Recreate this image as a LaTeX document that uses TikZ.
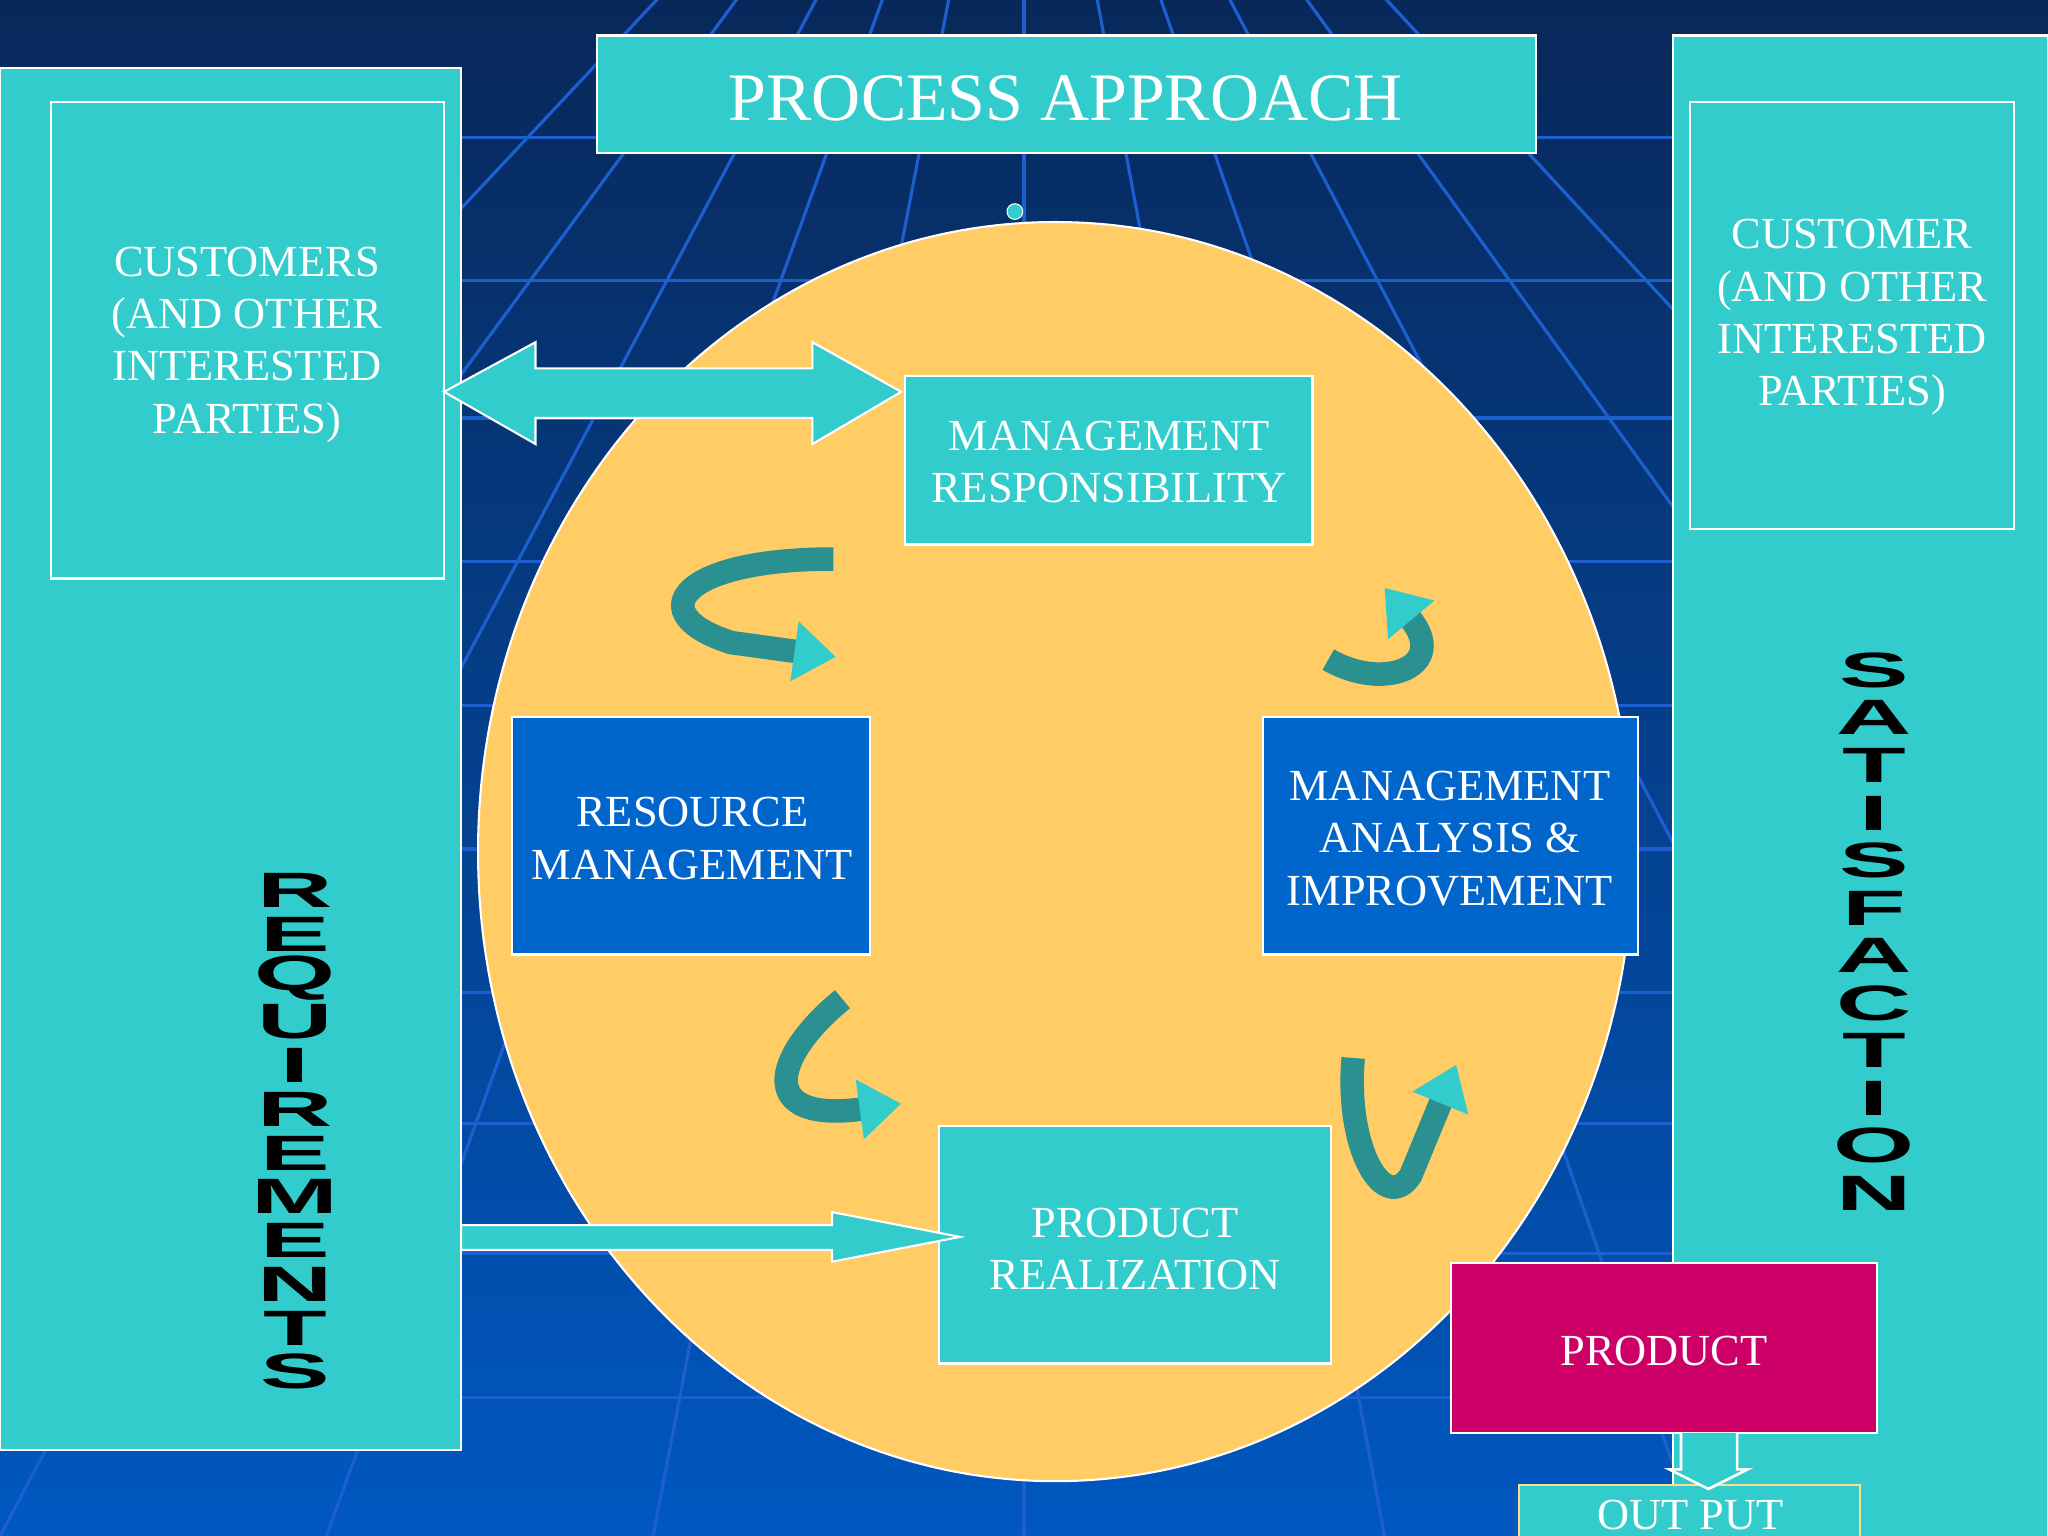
\documentclass[tikz,border=0pt]{standalone}
\usepackage{fontspec}
\setmainfont{Liberation Serif}
\newfontfamily\heavy{Liberation Sans}
\usetikzlibrary{arrows.meta,shapes.arrows}
\definecolor{teal1}{HTML}{33CCCC}
\definecolor{teal2}{HTML}{2A9090}
\definecolor{orb}{HTML}{FFCC66}
\definecolor{bluebox}{HTML}{0066CC}
\definecolor{prod}{HTML}{CC0066}
\definecolor{navy}{HTML}{08285A}
\definecolor{bbot}{HTML}{0058C0}
\definecolor{gridc}{HTML}{1E5FD0}
\tikzset{
  tbox/.style={fill=teal1,draw=white,line width=1pt},
  bbox/.style={fill=bluebox,draw=white,line width=1pt},
  txt/.style={text=white,font=\fontsize{17}{20}\selectfont,align=center},
  vert/.style={text=black,font=\heavy\bfseries\fontsize{19}{19}\selectfont,inner sep=0pt,xscale=2.1},
  curv/.style={line width=9pt,draw=teal2,-{Triangle[length=16pt,width=22pt,color=teal1]}},
}
\begin{document}
\begin{tikzpicture}[x=0.5pt,y=-0.5pt]
\useasboundingbox (0,0) rectangle (1568,1176);
\shade[top color=navy,bottom color=bbot] (0,0) rectangle (1568,1176);
\foreach \yy in {105,215,320,430,540,650,760,860,960,1070}
  \draw[gridc,line width=1.2pt] (0,\yy) -- (1568,\yy);
\foreach \xx in {-600,-300,0,250,500,784,1060,1300,1560,1850,2150}
  \draw[gridc,line width=1.2pt] (784,-300) -- (\xx,1176);
% left box
\path[tbox] (0,52) rectangle (353,1110);
\draw[white,line width=1pt] (39,78) rectangle (340,443);
\node[txt] (cust) at (189,264) {CUSTOMERS\\(AND OTHER\\INTERESTED\\PARTIES)};
% right box
\path[tbox] (1281,27) rectangle (1568,1180);
\draw[white,line width=1pt] (1294,78) rectangle (1542,405);
\node[txt] (cust2) at (1418,243) {CUSTOMER\\(AND OTHER\\INTERESTED\\PARTIES)};
% title
\path[tbox] (457,27) rectangle (1176,117);
\node[text=white,font=\fontsize{26}{30}\selectfont] (title) at (816,75) {PROCESS APPROACH};
% orb
\fill[orb,draw=white,line width=0.8pt] (808,652) ellipse (442 and 482);
\fill[teal1,draw=white] (777,162) circle (6);
% boxes
\path[tbox] (693,288) rectangle (1005,417);
\node[txt] (mr) at (849,354) {MANAGEMENT\\RESPONSIBILITY};
\path[bbox] (392,549) rectangle (666,731);
\node[txt] (rm) at (530,642) {RESOURCE\\MANAGEMENT};
\path[bbox] (967,549) rectangle (1254,731);
\node[txt] (ma) at (1110,642) {MANAGEMENT\\ANALYSIS \&\\IMPROVEMENT};
\path[tbox] (719,862) rectangle (1019,1044);
\node[txt] (pr) at (869,956) {PRODUCT\\REALIZATION};
\path[fill=prod,draw=white,line width=1pt] (1111,967) rectangle (1437,1097);
\node[txt] (pd) at (1274,1034) {PRODUCT};
\path[fill=teal1,draw=orb!70!white,line width=1pt] (1163,1137) rectangle (1424,1190);
\node[txt] (op) at (1294,1160) {OUT PUT};
% double arrow
\fill[teal1,draw=white,line width=0.8pt] (340,300) -- (410,262) -- (410,282) -- (622,282) -- (622,262) -- (690,300)
  -- (622,340) -- (622,320) -- (410,320) -- (410,340) -- cycle;
% requirements arrow
\fill[teal1,draw=white,line width=0.8pt] (353,938) -- (637,938) -- (637,928) -- (735,947) -- (637,966) -- (637,957) -- (353,957) -- cycle;
% down arrow
\draw[white,line width=1pt,fill=teal1] (1287,1097) -- (1287,1125) -- (1278,1125) -- (1308,1140) -- (1338,1125) -- (1330,1125) -- (1330,1097);
% curved arrows
\draw[curv] (638,428) .. controls (520,428) and (490,470) .. (560,492) -- (640,503);
\draw[curv] (1017,505) .. controls (1060,530) and (1110,510) .. (1060,450);
\draw[curv] (645,765) .. controls (590,810) and (580,860) .. (690,845);
\draw[curv] (1036,810) .. controls (1030,880) and (1060,930) .. (1080,900) -- (1115,815);
% vertical words
\foreach \L [count=\i] in {R,E,Q,U,I,R,E,M,E,N,T,S}
  \node[vert] (r\i) at (226,{665+33.5*(\i-0.5)}) {\L};
\foreach \L [count=\i] in {S,A,T,I,S,F,A,C,T,I,O,N}
  \node[vert] (s\i) at (1435,{495+36.4*(\i-0.5)}) {\L};
\end{tikzpicture}
\end{document}
